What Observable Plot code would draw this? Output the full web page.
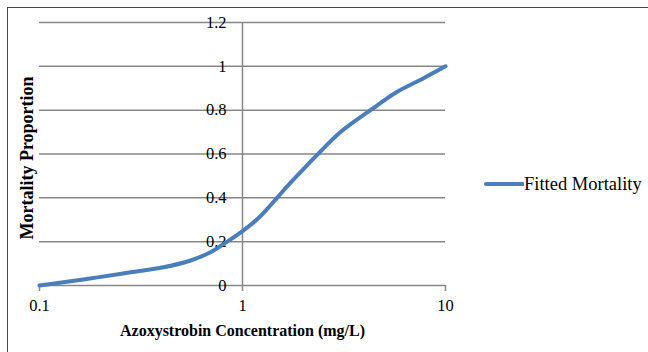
<!DOCTYPE html>
<html>
<head>
<meta charset="utf-8">
<script src="https://cdn.jsdelivr.net/npm/d3@7"></script>
<script src="https://cdn.jsdelivr.net/npm/@observablehq/plot@0.6"></script>
<style>
  html, body { margin: 0; padding: 0; background: #fff; }
  #wrap { position: relative; width: 648px; height: 352px; overflow: hidden; font-family: "Liberation Serif", "Times New Roman", serif; }
  #border { position: absolute; left: 7px; top: 7px; width: 700px; height: 400px; border-left: 1.5px solid #444; border-top: 1.5px solid #444; box-sizing: border-box; }
  #legend { position: absolute; left: 484px; top: 172px; height: 24px; display: flex; align-items: center; font-size: 18.5px; color: #000; white-space: nowrap; }
  #legend svg { display: block; }
</style>
</head>
<body>
<div id="wrap">
  <div id="border"></div>
  <div id="chart"></div>
  <div id="legend"></div>
</div>
<script>
const seriesName = "Fitted Mortality";
const xTitle = "Azoxystrobin Concentration (mg/L)";
const yTitle = "Mortality Proportion";
const xTicks = [0.1, 1, 10];
const xTickLabels = ["0.1", "1", "10"];
const yTicks = [0, 0.2, 0.4, 0.6, 0.8, 1, 1.2];
const yTickLabels = ["0", "0.2", "0.4", "0.6", "0.8", "1", "1.2"];
const concentration = [0.1, 0.131, 0.193, 0.281, 0.408, 0.555, 0.696, 0.841, 1.0, 1.18, 1.32, 1.48, 1.72, 2.0, 2.3, 3.04, 4.27, 5.81, 7.80, 10];
const mortality = [0, 0.015, 0.037, 0.060, 0.083, 0.114, 0.152, 0.20, 0.248, 0.302, 0.348, 0.40, 0.468, 0.532, 0.59, 0.70, 0.80, 0.885, 0.946, 1.0];

const data = concentration.map((c, i) => ({c, m: mortality[i]}));
const lineColor = "#4a7ebb";
const gridColor = "#878787";

const chart = Plot.plot({
  width: 648,
  height: 352,
  marginLeft: 39,
  marginRight: 203,
  marginTop: 22,
  marginBottom: 67,
  style: { fontFamily: "Liberation Serif, Times New Roman, serif", fontSize: "16px", color: "#000", background: "transparent", overflow: "visible" },
  x: { type: "log", domain: [0.1, 10], axis: null },
  y: { domain: [0, 1.2], axis: null },
  marks: [
    Plot.ruleY(yTicks, { stroke: gridColor, strokeWidth: 1.5 }),
    Plot.ruleX([1], { y1: 0, y2: 1.2, stroke: gridColor, strokeWidth: 1.5 }),
    Plot.axisX({ ticks: xTicks, tickFormat: d => xTickLabels[xTicks.indexOf(d)], tickSize: 6, tickPadding: 8, stroke: gridColor, strokeWidth: 1.5, strokeOpacity: 1, fontSize: 16.5, label: null }),
    Plot.text(yTicks, { x: 1, y: d => d, text: (d, i) => yTickLabels[i], textAnchor: "end", lineAnchor: "middle", dx: -16, fontSize: 16.5, fill: "#000" }),
    Plot.line(data, { x: "c", y: "m", stroke: lineColor, strokeWidth: 4, curve: "catmull-rom" }),
    Plot.text([xTitle], { frameAnchor: "bottom", textAnchor: "middle", lineAnchor: "middle", dy: 45, fontWeight: "bold", fontSize: 16, fill: "#000" }),
    Plot.text([yTitle], { frameAnchor: "left", textAnchor: "middle", lineAnchor: "middle", rotate: -90, dx: -12, dy: 4, fontWeight: "bold", fontSize: 18, fill: "#000" })
  ]
});
document.getElementById("chart").appendChild(chart);

const legend = document.getElementById("legend");
legend.innerHTML = `<svg width="40" height="8"><line x1="2" y1="4" x2="39" y2="4" stroke="${lineColor}" stroke-width="4" stroke-linecap="round"/></svg><span>${seriesName}</span>`;
</script>
</body>
</html>
